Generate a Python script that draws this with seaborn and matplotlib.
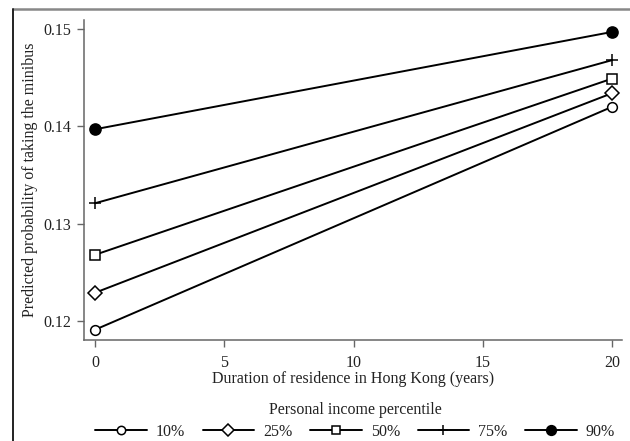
import matplotlib
matplotlib.use("Agg")
import matplotlib.pyplot as plt
from matplotlib.lines import Line2D
import seaborn as sns
import pandas as pd

years = [0, 20]
percentiles = ["10%", "25%", "50%", "75%", "90%"]
prob_10 = [0.1191, 0.1420]
prob_25 = [0.1229, 0.1434]
prob_50 = [0.1268, 0.1449]
prob_75 = [0.1321, 0.1468]
prob_90 = [0.1397, 0.1497]

series = [prob_10, prob_25, prob_50, prob_75, prob_90]
rows = []
for name, vals in zip(percentiles, series):
    for x, y in zip(years, vals):
        rows.append({"years": x, "prob": y, "pct": name})
df = pd.DataFrame(rows)

sns.set_style("ticks")
plt.rcParams["font.family"] = ["Liberation Serif", "DejaVu Serif"]
FS = 11.5
TXT = "#222222"

fig = plt.figure(figsize=(6.3, 4.41), dpi=100)
ax = fig.add_axes([84 / 630, 1 - 340 / 441, (622 - 84) / 630, (340 - 20) / 441])

markers = {"10%": "o", "25%": "D", "50%": "s", "75%": "+", "90%": "o"}
face = {"10%": "white", "25%": "white", "50%": "white", "75%": "black", "90%": "black"}
msize = {"10%": 7, "25%": 7, "50%": 7, "75%": 8, "90%": 8}

for p in percentiles:
    sub = df[df["pct"] == p]
    sns.lineplot(data=sub, x="years", y="prob", color="black", linewidth=1.4,
                 marker=markers[p], markersize=msize[p],
                 markerfacecolor=face[p], markeredgecolor="black",
                 markeredgewidth=1.1, ax=ax, legend=False)

ax.set_xlim(-0.43, 20.39)
ax.set_ylim(0.11804, 0.15093)
ax.set_xticks([0, 5, 10, 15, 20])
ax.set_yticks([0.12, 0.13, 0.14, 0.15])
ax.set_yticklabels(["0.12", "0.13", "0.14", "0.15"])
for side in ["top", "right"]:
    ax.spines[side].set_visible(False)
for side in ["left", "bottom"]:
    ax.spines[side].set_color("#666666")
    ax.spines[side].set_linewidth(1.1)
ax.tick_params(axis="both", colors="#666666", labelcolor=TXT,
               labelsize=FS, length=5, width=1.0)
ax.tick_params(axis="x", pad=6)
ax.tick_params(axis="y", pad=4)
ax.set_xlabel("Duration of residence in Hong Kong (years)", fontsize=FS,
              color=TXT, labelpad=0)
ax.set_ylabel("Predicted probability of taking the minibus", fontsize=FS,
              color=TXT, labelpad=4)

handles = []
for p in percentiles:
    handles.append(Line2D([0], [0], color="black", lw=1.4, marker=markers[p],
                          markerfacecolor=face[p], markeredgecolor="black",
                          markersize=msize[p] - 1, markeredgewidth=1.1))
leg = fig.legend(handles, percentiles, loc="upper center", ncol=5,
                 bbox_to_anchor=(355 / 630, 1 - 402 / 441), frameon=False,
                 fontsize=FS, title="Personal income percentile",
                 title_fontsize=FS, handlelength=3.25, columnspacing=1.1,
                 handletextpad=0.55, borderpad=0, borderaxespad=0,
                 labelspacing=0.3)
leg._legend_box.sep = 4
for t in leg.get_texts():
    t.set_color(TXT)
leg.get_title().set_color(TXT)

# outer frame lines
fig.add_artist(Line2D([13 / 630, 1], [1 - 9 / 441, 1 - 9 / 441],
                      transform=fig.transFigure, color="#888888", lw=1.8))
fig.add_artist(Line2D([13 / 630, 13 / 630], [0, 1 - 9 / 441],
                      transform=fig.transFigure, color="#222222", lw=1.4))

fig.savefig("out.png", dpi=100, facecolor="white")
